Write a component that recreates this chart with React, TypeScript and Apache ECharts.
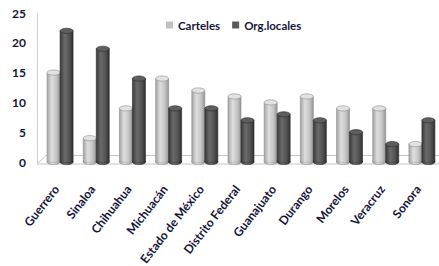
import React, { useEffect, useRef } from "react";
import * as echarts from "echarts";

const categories = [
  "Guerrero",
  "Sinaloa",
  "Chihuahua",
  "Michuacán",
  "Estado de México",
  "Distrito Federal",
  "Guanajuato",
  "Durango",
  "Morelos",
  "Veracruz",
  "Sonora",
];
const carteles = [15, 4, 9, 14, 12, 11, 10, 11, 9, 9, 3];
const orgLocales = [22, 19, 14, 9, 9, 7, 8, 7, 5, 3, 7];
const seriesNames = ["Carteles", "Org.locales"];
const yTicks = { min: 0, max: 25, interval: 5 };

const TEXT = "#15153a";
const FONT = "Lato";

type Palette = { stops: string[]; cap: string; stroke: string; legend: string };
const palettes: Palette[] = [
  { stops: ["#a4a4a4", "#dedede", "#c6c6c6", "#969696"], cap: "#e2e2e2", stroke: "#8c8c8c", legend: "#c0c0c0" },
  { stops: ["#3a3a3a", "#6a6a6a", "#545454", "#303030"], cap: "#5e5e5e", stroke: "#2a2a2a", legend: "#5a5a5a" },
];

function makeRender(side: number, pal: Palette) {
  return (params: any, api: any) => {
    const idx = api.value(0);
    const val = api.value(1);
    const top = api.coord([idx, val]);
    const base = api.coord([idx, 0]);
    const w = 13;
    const xl = side === 0 ? top[0] - w : top[0];
    const cx = xl + w / 2;
    const ry = 2.6;
    const grad = new echarts.graphic.LinearGradient(0, 0, 1, 0, [
      { offset: 0, color: pal.stops[0] },
      { offset: 0.35, color: pal.stops[1] },
      { offset: 0.7, color: pal.stops[2] },
      { offset: 1, color: pal.stops[3] },
    ]);
    return {
      type: "group",
      children: [
        {
          type: "ellipse",
          shape: { cx, cy: base[1], rx: w / 2, ry },
          style: { fill: grad, stroke: pal.stroke, lineWidth: 0.6 },
        },
        {
          type: "rect",
          shape: { x: xl, y: top[1], width: w, height: base[1] - top[1] },
          style: { fill: grad, stroke: pal.stroke, lineWidth: 0.6 },
        },
        {
          type: "rect",
          shape: { x: xl + 0.4, y: base[1] - 2, width: w - 0.8, height: 2 },
          style: { fill: grad },
        },
        {
          type: "ellipse",
          shape: { cx, cy: top[1], rx: w / 2, ry },
          style: { fill: pal.cap, stroke: pal.stroke, lineWidth: 0.6 },
        },
      ],
    };
  };
}

export default function App() {
  const ref = useRef<HTMLDivElement>(null);
  useEffect(() => {
    if (!ref.current) return;
    const chart = echarts.init(ref.current, undefined, { renderer: "svg" });
    const lists = [carteles, orgLocales];
    chart.setOption({
      animation: false,
      backgroundColor: "#ffffff",
      legend: {
        left: 161,
        top: 14,
        itemWidth: 7,
        itemHeight: 7,
        itemGap: 12,
        icon: "rect",
        data: seriesNames,
        textStyle: { color: TEXT, fontFamily: FONT, fontWeight: "bold", fontSize: 11.5 },
      },
      grid: { left: 42, top: 13, width: 398, height: 149, outerBoundsMode: "none" },
      xAxis: {
        type: "category",
        data: categories,
        axisLine: { show: false },
        axisTick: { show: false },
        axisLabel: {
          interval: 0,
          rotate: 52,
          margin: 20,
          padding: [0, 6, 0, 0],
          color: TEXT,
          fontFamily: FONT,
          fontWeight: "bold",
          fontSize: 12,
        },
      },
      yAxis: {
        type: "value",
        min: yTicks.min,
        max: yTicks.max,
        interval: yTicks.interval,
        axisLine: { show: false },
        axisTick: { show: false },
        splitLine: { show: false },
        axisLabel: {
          margin: 16,
          color: TEXT,
          fontFamily: FONT,
          fontWeight: "bold",
          fontSize: 12,
          padding: [6, 0, 0, 0],
        },
      },
      graphic: [
        {
          type: "polygon",
          z: -10,
          shape: { points: [[37, 164], [46, 155.5], [440, 155.5], [440, 164]] },
          style: { fill: "#ffffff", stroke: "#c4c4c4", lineWidth: 1 },
        },
        {
          type: "line",
          z: -10,
          shape: { x1: 37.5, y1: 13, x2: 37.5, y2: 164 },
          style: { stroke: "#d0d0d0", lineWidth: 1 },
        },
      ],
      series: lists.map((vals, s) => ({
        type: "custom",
        name: seriesNames[s],
        itemStyle: { color: palettes[s].legend },
        encode: { x: 0, y: 1 },
        data: vals.map((v, i) => [i, v]),
        renderItem: makeRender(s, palettes[s]),
      })),
    });
    return () => chart.dispose();
  }, []);
  return (
    <div
      ref={ref}
      style={{ position: "fixed", left: 0, top: 0, width: 439, height: 266 }}
    />
  );
}
